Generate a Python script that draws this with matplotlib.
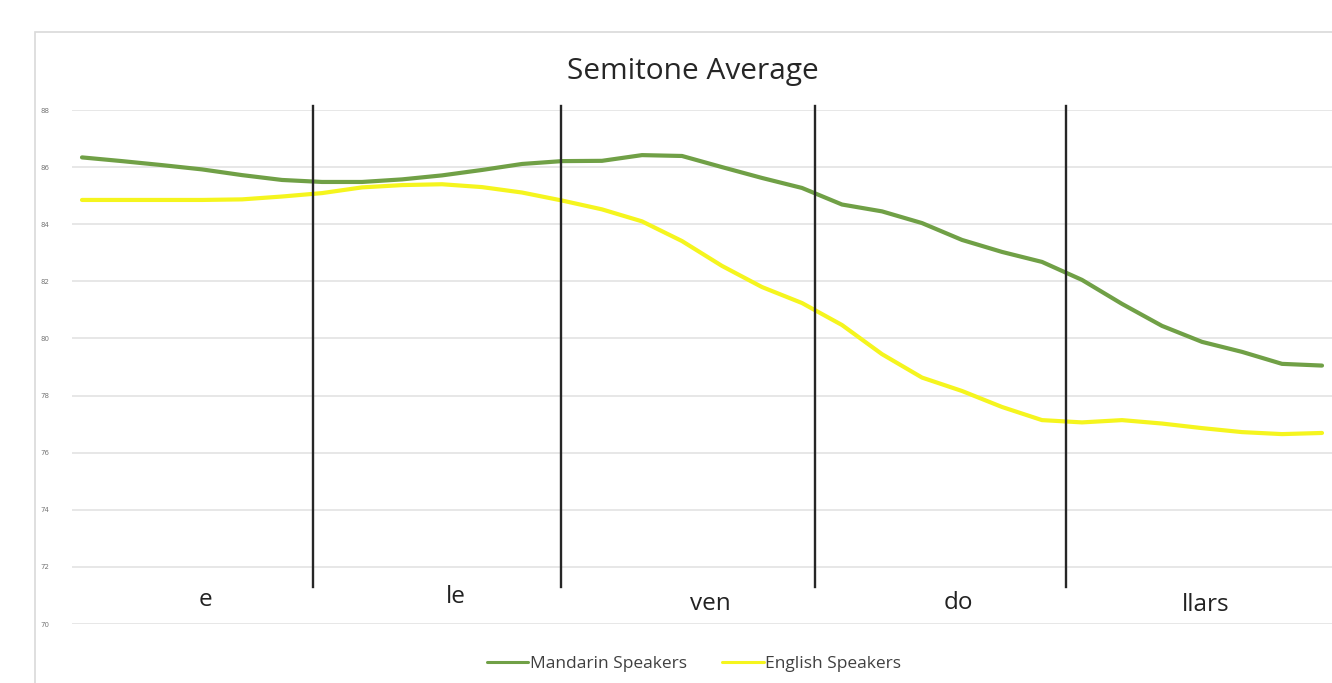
import matplotlib
matplotlib.use("Agg")
import matplotlib.pyplot as plt
from matplotlib.patches import Rectangle

# ---- data ----
idx = list(range(32))
mandarin = [86.34, 86.21, 86.07, 85.92, 85.72, 85.55, 85.48, 85.48, 85.57, 85.71,
            85.90, 86.11, 86.21, 86.22, 86.42, 86.39, 86.00, 85.62, 85.27, 84.69,
            84.45, 84.04, 83.45, 83.03, 82.68, 82.05, 81.21, 80.44, 79.88, 79.53,
            79.11, 79.05]
english = [84.85, 84.85, 84.85, 84.85, 84.87, 84.97, 85.09, 85.29, 85.37, 85.40,
           85.30, 85.11, 84.83, 84.52, 84.10, 83.41, 82.54, 81.80, 81.24, 80.47,
           79.45, 78.63, 78.16, 77.60, 77.14, 77.06, 77.14, 77.02, 76.86, 76.72,
           76.65, 76.69]
boundaries = [5.775, 11.975, 18.325, 24.6]
syllables = ["e", "le", "ven", "do", "llars"]
syll_x = [3.075, 9.35, 15.7, 21.9, 28.1]
syll_y = [70.85, 70.95, 70.70, 70.75, 70.65]
yticks = [70, 72, 74, 76, 78, 80, 82, 84, 86, 88]

W, H = 1332, 683
fig = plt.figure(figsize=(W / 100, H / 100), dpi=100, facecolor="white")
ax = fig.add_axes([72 / W, 1 - 624 / H, (W - 72) / W, (624 - 110) / H])

ax.set_ylim(70, 88)
ax.set_xlim(-0.25, 31.25)
ax.set_yticks(yticks)
ax.set_yticklabels([str(t) for t in yticks], fontsize=5, color="#777777")
ax.tick_params(axis="y", length=0, pad=16)
ax.set_xticks([])
for s in ax.spines.values():
    s.set_visible(False)
ax.grid(axis="y", color="#e3e3e3", lw=1.2)
ax.set_axisbelow(True)

ax.plot(idx, mandarin, color="#70A046", lw=3, solid_joinstyle="round",
        solid_capstyle="round", label="Mandarin Speakers", zorder=3)
ax.plot(idx, english, color="#F5F51E", lw=3, solid_joinstyle="round",
        solid_capstyle="round", label="English Speakers", zorder=3)

for b in boundaries:
    ax.plot([b, b], [71.3, 88.15], color="#262626", lw=1.7, zorder=4, clip_on=False)

for s, x, y in zip(syllables, syll_x, syll_y):
    ax.text(x, y, s, ha="center", va="center", fontsize=17.5,
            family="Open Sans", color="#222222")

fig.text(693 / W, 1 - 72 / H, "Semitone Average", ha="center", va="center",
         fontsize=21.5, family="Open Sans", color="#262626")

leg = fig.legend(loc="center", bbox_to_anchor=(694 / W, 1 - 664 / H), ncol=2,
                 frameon=False, handlelength=2.4, handletextpad=0.1,
                 columnspacing=2.0, labelcolor="#404040",
                 prop={"family": "Open Sans", "size": 12.5})
for line in leg.get_lines():
    line.set_linewidth(2.2)

fig.add_artist(Rectangle((35 / W, -0.1), 2, 1 - 32 / H + 0.1,
                         transform=fig.transFigure, fill=False,
                         edgecolor="#d9d9d9", lw=1.2))

fig.savefig("out.png", dpi=100, facecolor="white")
